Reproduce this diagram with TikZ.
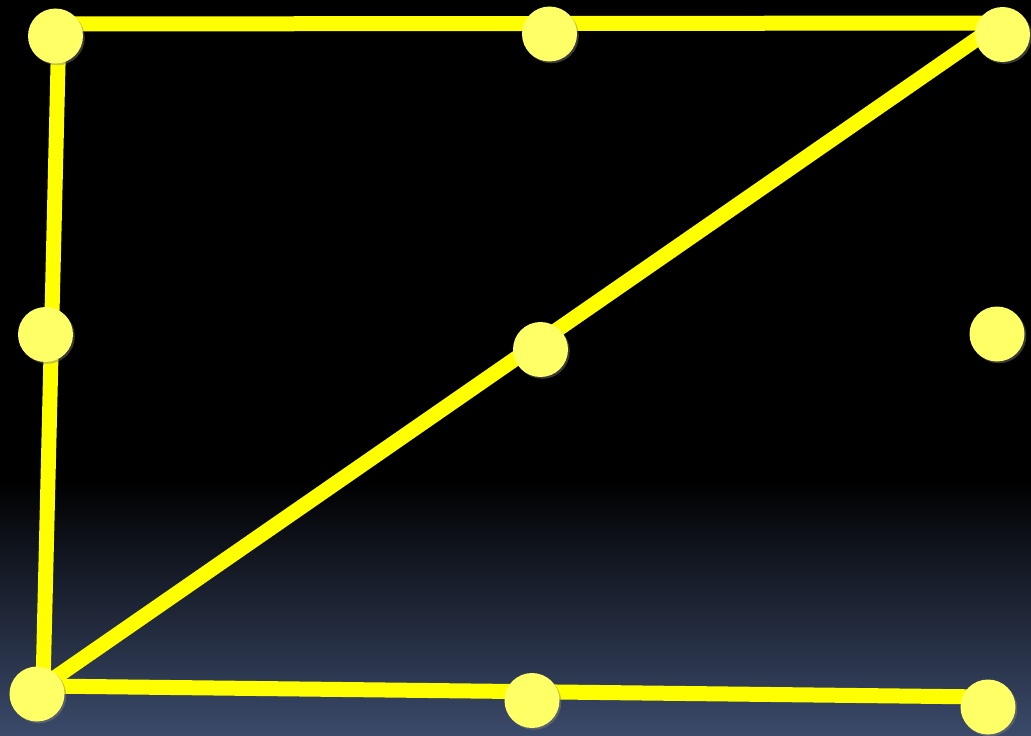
\documentclass[tikz,border=0pt]{standalone}
\usetikzlibrary{shadows}
\definecolor{dotyellow}{RGB}{255,255,102}
\definecolor{lineyellow}{RGB}{255,255,0}
\definecolor{bgbottom}{RGB}{59,74,106}
\begin{document}
	\begin{tikzpicture}[x=0.5mm, y=-0.5mm,
		dot/.style={circle, fill=dotyellow, inner sep=0pt, minimum size=27.5mm,
			drop shadow={opacity=0.45, shadow xshift=0.9mm, shadow yshift=-0.9mm}},
		edge/.style={draw=lineyellow, line width=7.5mm}]
		\useasboundingbox (0,0) rectangle (1031,735);
		\fill[black] (0,0) rectangle (1031,735);
		\shade[top color=black, bottom color=bgbottom] (0,480) rectangle (1031,735);
		
		\coordinate (ltop) at (59,24);
		\coordinate (rtop) at (1000,23);
		\coordinate (lbot) at (43,686);
		\coordinate (rbot) at (986,697);
		
		\draw[edge] (rtop)--(ltop)--(lbot)--(rbot);
		\draw[edge] (lbot)--(rtop);
		
		\node (tl) [dot] at (55.5,36) {};
		\node (tm) [dot] at (549.5,34) {};
		\node (tr) [dot] at (1002.5,34.5) {};
		\node (ml) [dot] at (45.5,334.5) {};
		\node (mc) [dot] at (540.5,349.5) {};
		\node (mr) [dot] at (997,334) {};
		\node (bl) [dot] at (37,694) {};
		\node (bm) [dot] at (532,700.5) {};
		\node (br) [dot] at (988,707) {};
	\end{tikzpicture}
\end{document}
